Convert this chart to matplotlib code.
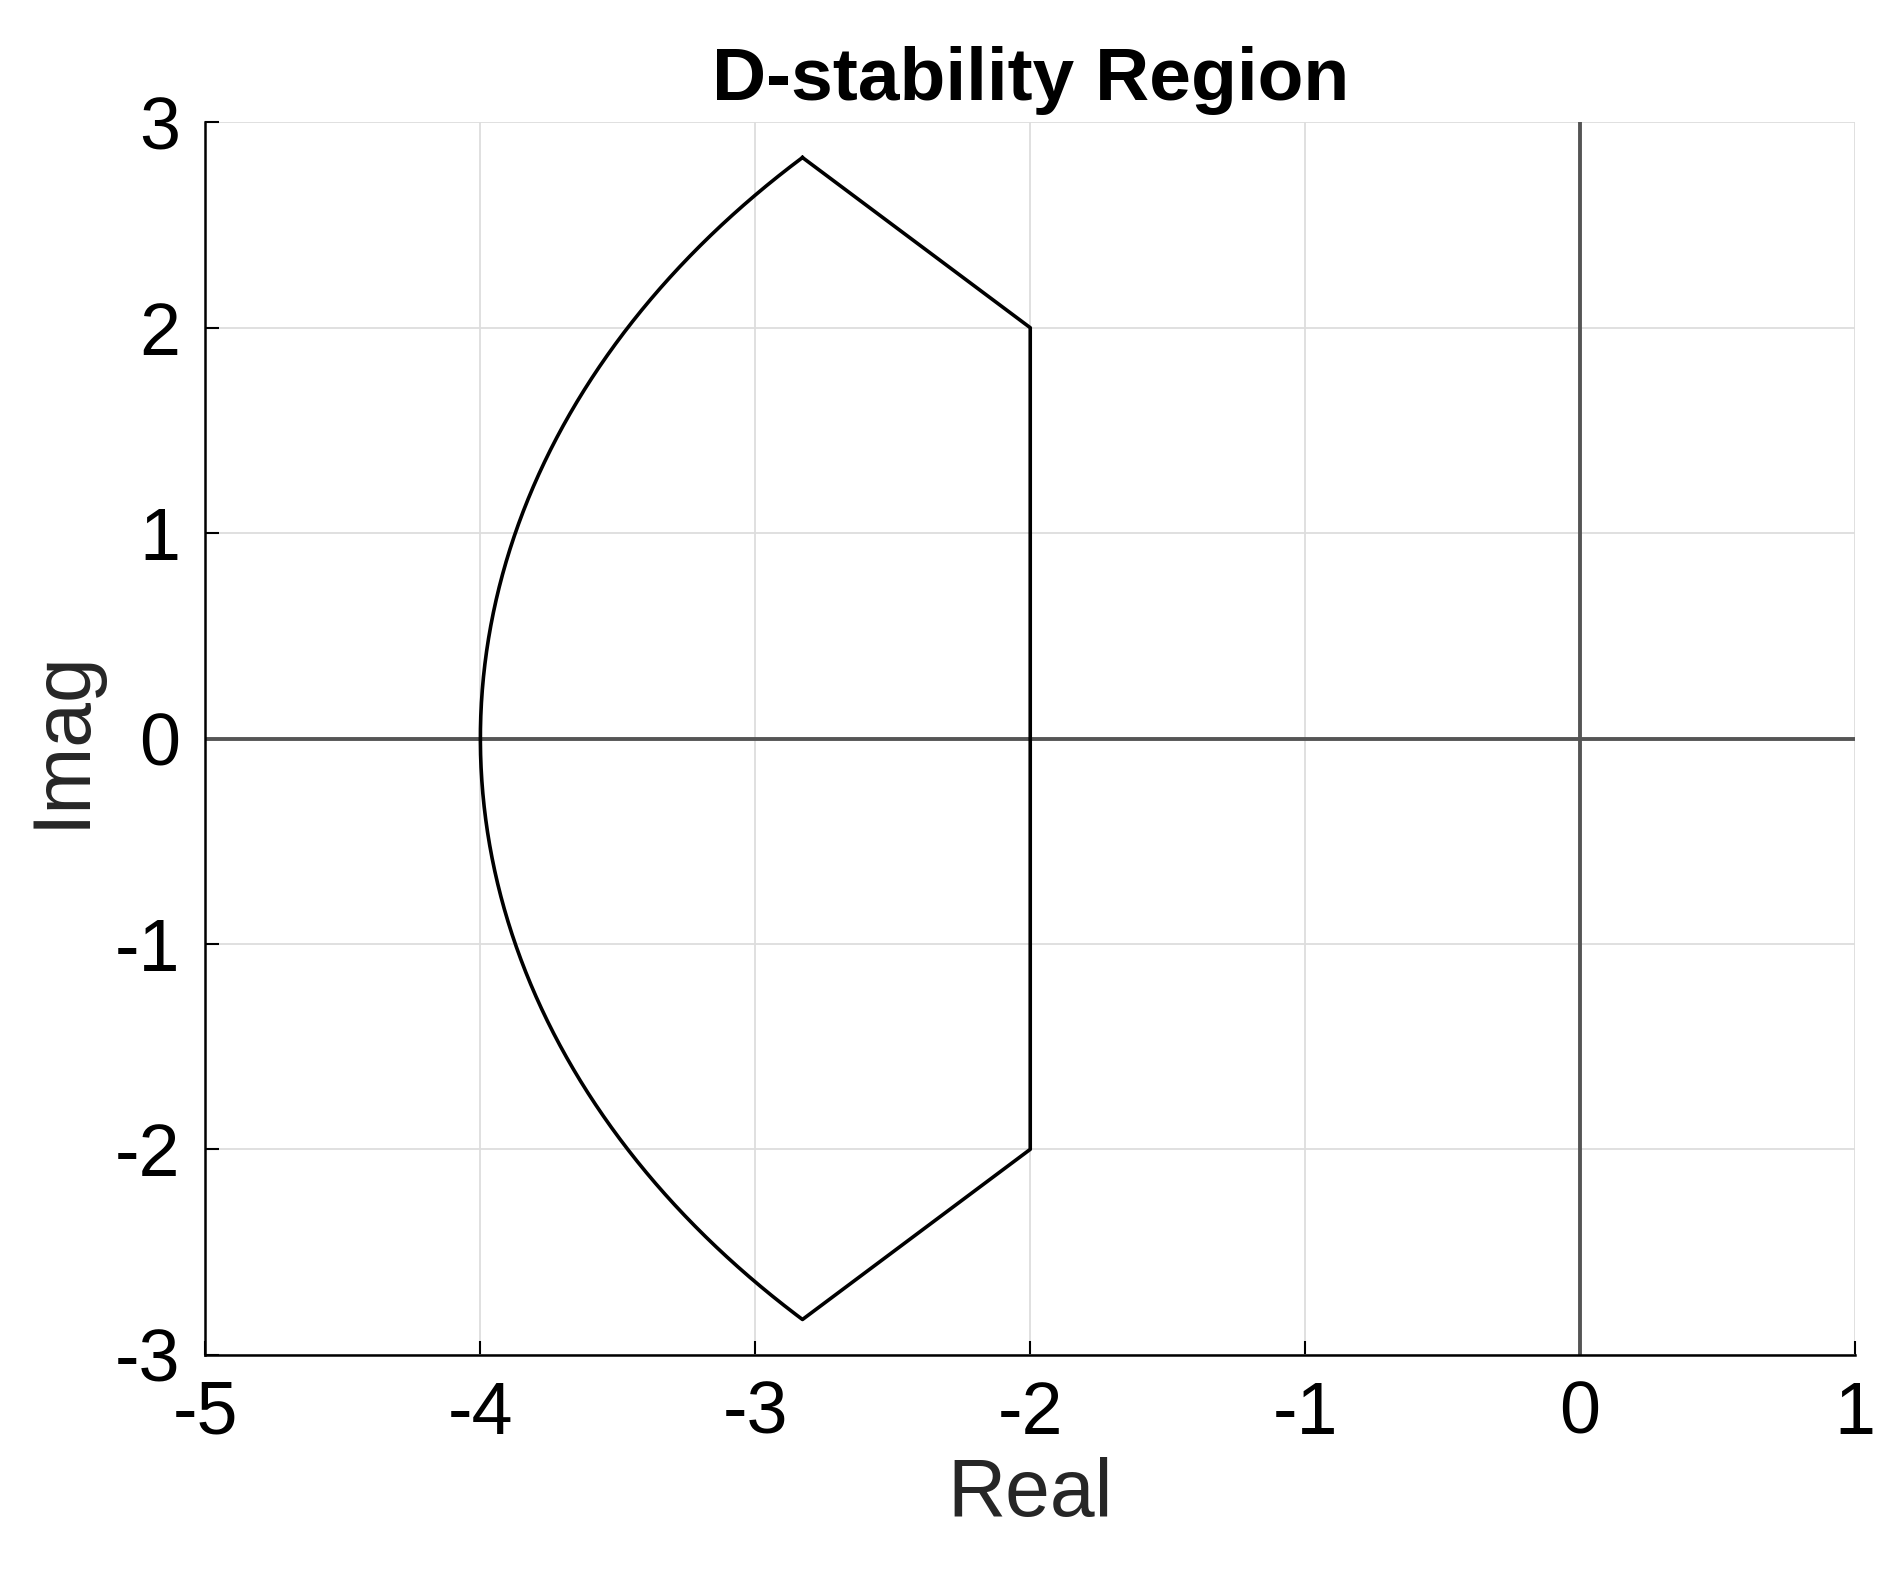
import numpy as np
import matplotlib
matplotlib.use("Agg")
import matplotlib.pyplot as plt

plt.rcParams['font.family'] = ['Liberation Sans', 'DejaVu Sans']
plt.rcParams['axes.unicode_minus'] = False

# Region parameters
radius = 4.0            # disk radius
sector_angle_deg = 45.0 # conic sector half-angle
alpha_shift = 2.0       # vertical line Re = -alpha
xticks = [-5, -4, -3, -2, -1, 0, 1]
yticks = [-3, -2, -1, 0, 1, 2, 3]

th = np.deg2rad(np.linspace(180 - sector_angle_deg, 180 + sector_angle_deg, 200))
arc_x = radius * np.cos(th)
arc_y = radius * np.sin(th)
xs = np.concatenate([arc_x, [-alpha_shift, -alpha_shift, arc_x[0]]])
ys = np.concatenate([arc_y, [-alpha_shift * np.tan(np.deg2rad(sector_angle_deg)),
                             alpha_shift * np.tan(np.deg2rad(sector_angle_deg)), arc_y[0]]])

fig = plt.figure(figsize=(18.9, 15.76), dpi=100)
ax = fig.add_axes([0.1087, 0.1404, 0.9815 - 0.1087, 0.9224 - 0.1404])
ax.plot(xs, ys, color='black', lw=2.6)
ax.axhline(0, color='#555555', lw=2.8, zorder=1)
ax.axvline(0, color='#555555', lw=2.8, zorder=1)
ax.set_xlim(-5, 1)
ax.set_ylim(-3, 3)
ax.set_xticks(xticks)
ax.set_yticks(yticks)
ax.grid(True, color='#dddddd', lw=1.3)
ax.set_axisbelow(True)
for s in ['top', 'right']:
    ax.spines[s].set_visible(False)
for s in ['left', 'bottom']:
    ax.spines[s].set_linewidth(1.8)
ax.tick_params(direction='in', length=10, width=1.5, labelsize=53, pad=18)
ax.set_xlabel('Real', fontsize=58, color='#262626', labelpad=6)
ax.set_ylabel('Imag', fontsize=58, color='#262626', labelpad=10)
ax.set_title('D-stability Region', fontsize=54, fontweight='bold', pad=16)
fig.savefig('out.png', dpi=100)
